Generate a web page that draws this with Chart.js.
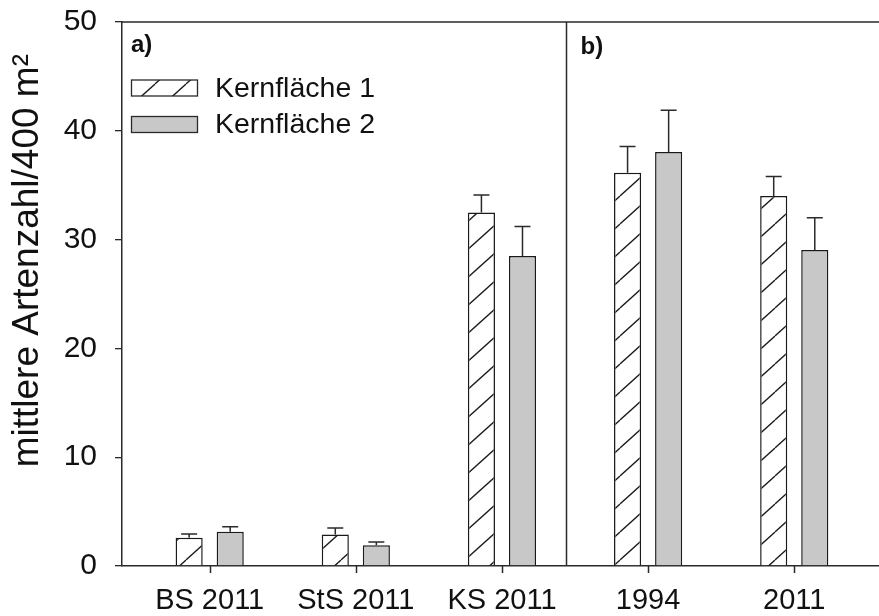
<!DOCTYPE html>
<html>
<head>
<meta charset="utf-8">
<script src="https://cdn.jsdelivr.net/npm/chart.js@4"></script>
<style>
  html, body { margin: 0; padding: 0; background: #fff; }
</style>
</head>
<body>
<canvas id="artenChart" width="879" height="616"></canvas>
<script>
// values
const categories = ['BS 2011', 'StS 2011', 'KS 2011', '1994', '2011']
const categoryPos = [1, 2, 3, 4, 5]
const seriesNames = ['Kernfläche 1', 'Kernfläche 2']
const kern1Mean = [2.6, 2.9, 32.5, 36.15, 34.0]
const kern1Se = [0.35, 0.6, 1.6, 2.4, 1.8]
const kern2Mean = [3.15, 1.9, 28.5, 38.05, 29.05]
const kern2Se = [0.45, 0.3, 2.7, 3.85, 2.95]
const yTicks = [0, 10, 20, 30, 40, 50]
const panelLabels = ['a)', 'b)']
const yTitle = 'mittlere Artenzahl/400 m²'
const dividerAt = 3.44

const FONT = "Arial, 'Liberation Sans', sans-serif"
const LINE = '#2a2a2a'
const GREY = '#c8c8c8'

function hatchPattern() {
  const w = 31, h = 28
  const c = document.createElement('canvas')
  c.width = w
  c.height = h
  const g = c.getContext('2d')
  g.fillStyle = '#fff'
  g.fillRect(0, 0, w, h)
  g.strokeStyle = '#1a1a1a'
  g.lineWidth = 1.3
  for (const dx of [-w, 0, w]) {
    g.beginPath()
    g.moveTo(dx, h)
    g.lineTo(dx + w, 0)
    g.stroke()
  }
  const ctx = document.getElementById('artenChart').getContext('2d')
  return ctx.createPattern(c, 'repeat')
}

function toPoints(means) {
  return means.map((m, i) => ({ x: categoryPos[i], y: m }))
}

const hatch = hatchPattern()
const errors = [kern1Se, kern2Se]

// upper whiskers only
const errorBars = {
  id: 'errorBars',
  afterDatasetsDraw(chart) {
    const ctx = chart.ctx
    const yScale = chart.scales.y
    ctx.save()
    ctx.strokeStyle = LINE
    ctx.lineWidth = 1.5
    chart.data.datasets.forEach((ds, d) => {
      const meta = chart.getDatasetMeta(d)
      meta.data.forEach((bar, i) => {
        const top = yScale.getPixelForValue(ds.data[i].y + errors[d][i])
        ctx.beginPath()
        ctx.moveTo(bar.x, bar.y)
        ctx.lineTo(bar.x, top)
        ctx.moveTo(bar.x - 8, top)
        ctx.lineTo(bar.x + 8, top)
        ctx.stroke()
      })
    })
    ctx.restore()
  }
}

// top frame line, panel divider, x tick marks, panel labels, legend, y title
const decorations = {
  id: 'decorations',
  afterDraw(chart) {
    const ctx = chart.ctx
    const area = chart.chartArea
    const xScale = chart.scales.x
    ctx.save()
    ctx.strokeStyle = LINE
    ctx.lineWidth = 1.5
    ctx.beginPath()
    ctx.moveTo(area.left, area.top)
    ctx.lineTo(area.right, area.top)
    const dx = Math.round(xScale.getPixelForValue(dividerAt)) + 0.5
    ctx.moveTo(dx, area.top)
    ctx.lineTo(dx, area.bottom)
    for (const v of categoryPos) {
      const tx = Math.round(xScale.getPixelForValue(v)) + 0.5
      ctx.moveTo(tx, area.bottom)
      ctx.lineTo(tx, area.bottom + 7)
    }
    ctx.stroke()

    ctx.fillStyle = '#111'
    ctx.font = 'bold 24px ' + FONT
    ctx.textBaseline = 'alphabetic'
    ctx.textAlign = 'left'
    ctx.fillText(panelLabels[0], area.left + 9, 52)
    ctx.fillText(panelLabels[1], dx + 14, 54)

    const fills = [hatch, GREY]
    const boxTops = [80, 116.5]
    ctx.font = '28.5px ' + FONT
    ctx.textBaseline = 'middle'
    seriesNames.forEach((name, i) => {
      ctx.fillStyle = fills[i]
      ctx.fillRect(131.5, boxTops[i], 66, 16)
      ctx.strokeStyle = LINE
      ctx.lineWidth = 1.3
      ctx.strokeRect(131.5, boxTops[i], 66, 16)
      ctx.fillStyle = '#111'
      ctx.fillText(name, 215, boxTops[i] + 9)
    })

    ctx.translate(38, 54)
    ctx.rotate(-Math.PI / 2)
    ctx.font = '37px ' + FONT
    ctx.textAlign = 'right'
    ctx.textBaseline = 'alphabetic'
    ctx.fillText(yTitle, 0, 0)
    ctx.restore()
  }
}

const barStyle = {
  borderColor: '#1a1a1a',
  borderWidth: 1.5,
  categoryPercentage: 0.562,
  barPercentage: 0.66
}

new Chart(document.getElementById('artenChart'), {
  type: 'bar',
  data: {
    datasets: [
      { label: seriesNames[0], data: toPoints(kern1Mean), backgroundColor: hatch, ...barStyle },
      { label: seriesNames[1], data: toPoints(kern2Mean), backgroundColor: GREY, ...barStyle }
    ]
  },
  options: {
    responsive: false,
    animation: false,
    layout: { padding: { top: 22, right: 0, left: 0, bottom: 0 } },
    plugins: {
      legend: { display: false },
      tooltip: { enabled: false }
    },
    scales: {
      x: {
        type: 'linear',
        offset: false,
        min: 0.4,
        max: 5.58,
        afterBuildTicks: (scale) => { scale.ticks = categoryPos.map(v => ({ value: v })) },
        afterFit: (scale) => {
          scale.height = 50
          scale.paddingLeft = 0
          scale.paddingRight = 0
        },
        grid: { display: false, offset: false, drawOnChartArea: false, tickLength: 7 },
        border: { display: true, color: LINE, width: 1.5 },
        ticks: {
          color: '#111',
          padding: 11,
          maxRotation: 0,
          autoSkip: false,
          font: { family: FONT, size: 29 },
          callback: (v) => categories[categoryPos.indexOf(v)]
        }
      },
      y: {
        min: 0,
        max: 50,
        afterBuildTicks: (scale) => { scale.ticks = yTicks.map(v => ({ value: v })) },
        afterFit: (scale) => {
          scale.width = 122
          scale.paddingTop = 0
          scale.paddingBottom = 0
        },
        grid: { display: true, drawOnChartArea: false, drawTicks: true, tickLength: 7, color: LINE, lineWidth: 1.3 },
        border: { display: true, color: LINE, width: 1.5 },
        ticks: {
          color: '#111',
          padding: 18,
          font: { family: FONT, size: 30 }
        }
      }
    }
  },
  plugins: [errorBars, decorations]
})
</script>
</body>
</html>
